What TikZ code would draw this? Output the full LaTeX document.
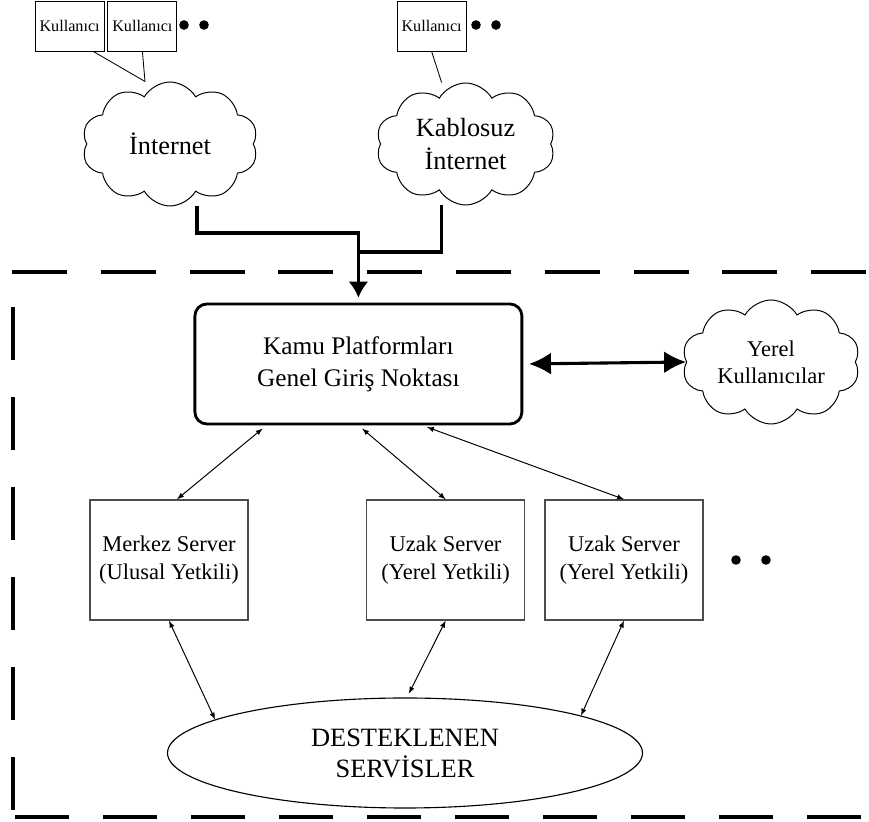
\documentclass[tikz,border=0pt]{standalone}
\usepackage{fontspec}
\setmainfont{Liberation Serif}
\usetikzlibrary{shapes.symbols,shapes.geometric,arrows.meta}

\begin{document}
\begin{tikzpicture}[>=latex,
  user/.style={draw,line width=.6pt,minimum width=1.725cm,minimum height=1.25cm,inner sep=0pt,font=\fontsize{11.5}{13}\selectfont},
  net/.style={cloud,cloud puffs=10,cloud puff arc=120,cloud ignores aspect,draw,line width=.7pt,inner sep=0pt,align=center},
  server/.style={draw=black!70,line width=1pt,minimum width=3.95cm,minimum height=3cm,align=center,font=\fontsize{16}{20}\selectfont},
  pipe/.style={line width=2.2pt},
  link/.style={<->,line width=.7pt},
  bigtip/.style={{Latex[length=5.5mm,width=5.5mm]}-{Latex[length=5.5mm,width=5.5mm]}}]
\useasboundingbox (0,0) rectangle (21.725,20.55);

% users and networks
\node[user] (u1) at (1.74,19.9) {Kullanıcı};
\node[user] (u2) at (3.56,19.9) {Kullanıcı};
\node[user] (u3) at (10.79,19.9) {Kullanıcı};
\foreach \x in {4.6,5.1,11.9,12.4}
	\fill (\x,19.925) circle (.12);

\node[net,minimum width=4.4cm,minimum height=3.1cm,font=\fontsize{18.7}{23}\selectfont] (inet) at (4.25,16.95) {İnternet};
\node[net,minimum width=4.475cm,minimum height=3.05cm,font=\fontsize{18.7}{23}\selectfont] (kab) at (11.64,16.95) {Kablosuz\\İnternet};

\draw[line width=.6pt] ([xshift=5.9mm]u1.south)--([xshift=-6.25mm]inet.north);
\draw[line width=.6pt] (u2.south)--([xshift=-6.25mm]inet.north);
\draw[line width=.6pt] (u3.south)--([xshift=-6mm]kab.north);

% platform
\node[draw,line width=2pt,rounded corners=.3cm,minimum width=8.175cm,minimum height=3cm,align=center,font=\fontsize{18}{22.5}\selectfont] (kamu) at (8.96,11.45) {Kamu Platformları\\Genel Giriş Noktası};
\node[net,minimum width=4.45cm,minimum height=3.1cm,font=\fontsize{16}{19}\selectfont] (yerel) at (19.275,11.5) {Yerel\\Kullanıcılar};

\coordinate (bend) at (8.96,14.725);
\coordinate (join) at (8.96,14.25);
\draw[pipe,-{Latex[length=4mm,width=5mm]},shorten >=3.5pt] ([xshift=6.75mm]inet.south) |- (bend)--(kamu.north);
\draw[pipe] ([xshift=-6mm]kab.south) |- (join);
\draw[line width=2.2pt,bigtip,shorten <=4pt] (kamu.east)--(yerel.west);

% servers
\node[server] (merk) at (4.225,6.55) {Merkez Server\\(Ulusal Yetkili)};
\node[server] (uz1) at (11.14,6.55) {Uzak Server\\(Yerel Yetkili)};
\node[server] (uz2) at (15.6,6.55) {Uzak Server\\(Yerel Yetkili)};
\foreach \x in {18.4,19.15}
	\fill (\x,6.55) circle (.12);

\node[draw,ellipse,line width=.8pt,minimum width=11.875cm,minimum height=2.75cm,inner sep=0pt,align=center,font=\fontsize{18.8}{22}\selectfont] (serv) at (10.125,1.725) {DESTEKLENEN\\SERVİSLER};

\draw[link,shorten <=3.5pt] ([xshift=-2.3cm]kamu.south)--([xshift=2mm]merk.north);
\draw[link,shorten <=3.5pt] (kamu.south)--(uz1.north);
\draw[link,shorten <=3.5pt] ([xshift=1.6cm]kamu.south)--(uz2.north);
\draw[link] (merk.south)--(serv.170);
\draw[link,shorten >=3pt] (uz1.south)--(serv.88);
\draw[link] (uz2.south)--(serv.12);

% borders of the platform
\draw[line width=2.2pt,dash pattern=on 1.375cm off .845cm] (.3,13.75)--(21.725,13.75);
\draw[line width=2.2pt,dash pattern=on 1.325cm off .925cm] (.325,12.875)--(.325,.3);
\draw[line width=3.5pt,dash pattern=on 1.35cm off .85cm] (.375,.125)--(21.65,.125);

\end{tikzpicture}
\end{document}
